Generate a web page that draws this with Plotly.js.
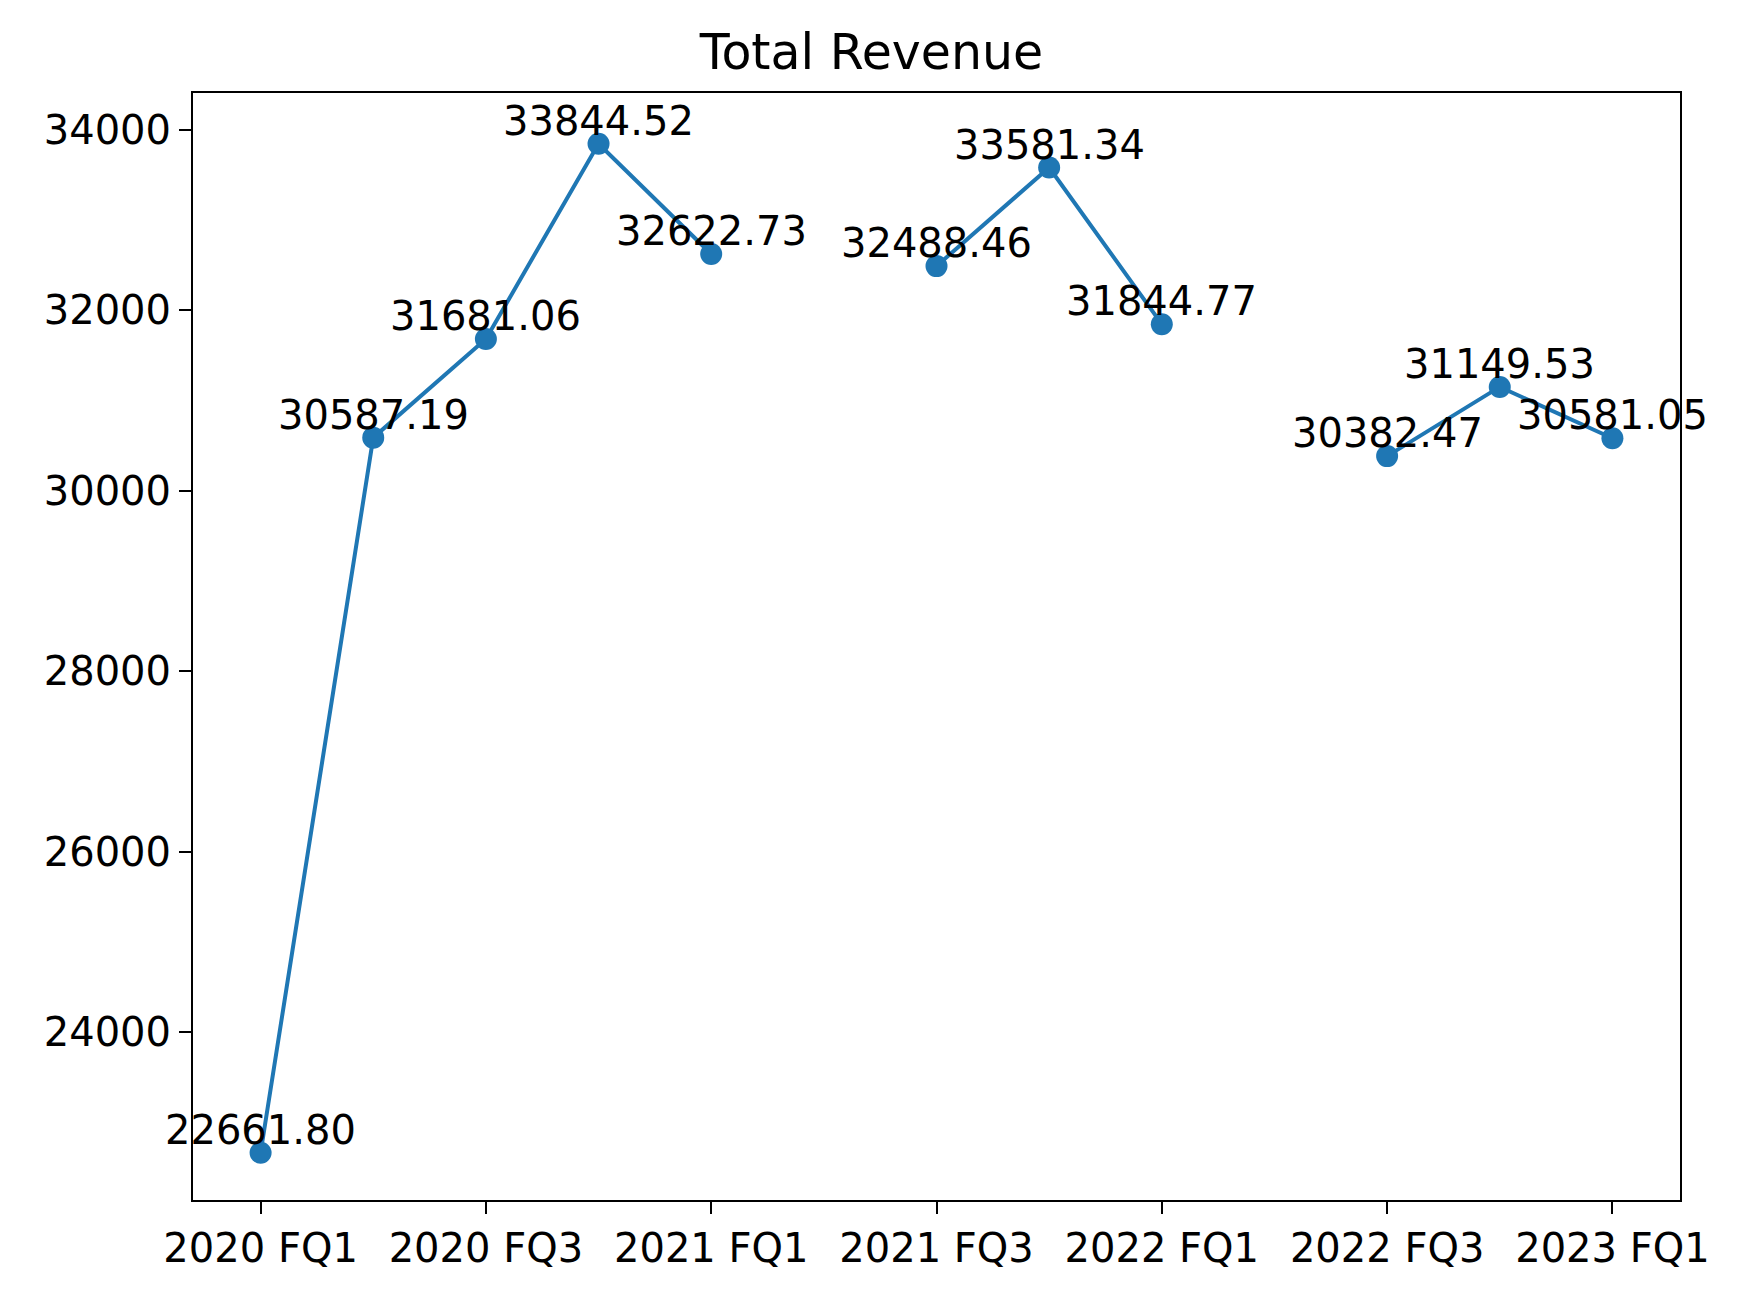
<!DOCTYPE html>
<html>
<head>
<meta charset="utf-8">
<script src="https://cdn.plot.ly/plotly-3.0.1.min.js"></script>
<style>body{margin:0;background:#fff}#chart{width:1743px;height:1302px}</style>
</head>
<body>
<div id="chart"></div>
<script>
// quarters, two of them have no data
const quarters = ["2020 FQ1","2020 FQ2","2020 FQ3","2020 FQ4","2021 FQ1","2021 FQ2",
  "2021 FQ3","2021 FQ4","2022 FQ1","2022 FQ2","2022 FQ3","2022 FQ4","2023 FQ1"];
const revenue = [22661.80, 30587.19, 31681.06, 33844.52, 32622.73, null,
  32488.46, 33581.34, 31844.77, null, 30382.47, 31149.53, 30581.05];
const tickLabels = ["2020 FQ1","2020 FQ3","2021 FQ1","2021 FQ3","2022 FQ1","2022 FQ3","2023 FQ1"];

const FONT = "DejaVu Sans, sans-serif";
const idx = quarters.map((q, i) => i);

const annotations = [];
revenue.forEach((v, i) => {
  if (v === null) return;
  annotations.push({
    x: i, y: v, text: v.toFixed(2), showarrow: false,
    xanchor: "center", yanchor: "bottom", yshift: -2,
    font: { family: FONT, size: 40, color: "#000" }
  });
});

Plotly.newPlot("chart", [{
  x: idx,
  y: revenue,
  mode: "lines+markers",
  line: { color: "#1f77b4", width: 4 },
  marker: { color: "#1f77b4", size: 22 },
  connectgaps: false
}], {
  width: 1743, height: 1302,
  margin: { l: 193, r: 63, t: 93, b: 102 },
  paper_bgcolor: "#fff", plot_bgcolor: "#fff",
  showlegend: false,
  title: { text: "Total Revenue", x: 0.5, xanchor: "center", y: 1 - 52 / 1302, yanchor: "middle",
    font: { family: FONT, size: 49, color: "#000" } },
  xaxis: {
    range: [-0.6, 12.6],
    tickmode: "array",
    tickvals: tickLabels.map(t => quarters.indexOf(t)),
    ticktext: tickLabels,
    showgrid: false, zeroline: false,
    showline: true, mirror: true, linecolor: "#000", linewidth: 2,
    ticks: "outside", ticklen: 12, tickwidth: 2, tickcolor: "#000",
    tickfont: { family: FONT, size: 40, color: "#000" }
  },
  yaxis: {
    range: [22138, 34407],
    tickvals: [24000, 26000, 28000, 30000, 32000, 34000],
    tickformat: "d",
    showgrid: false, zeroline: false,
    showline: true, mirror: true, linecolor: "#000", linewidth: 2,
    ticks: "outside", ticklen: 12, tickwidth: 2, tickcolor: "#000",
    tickfont: { family: FONT, size: 40, color: "#000" }
  },
  annotations: annotations
}, { displayModeBar: false });
</script>
</body>
</html>
